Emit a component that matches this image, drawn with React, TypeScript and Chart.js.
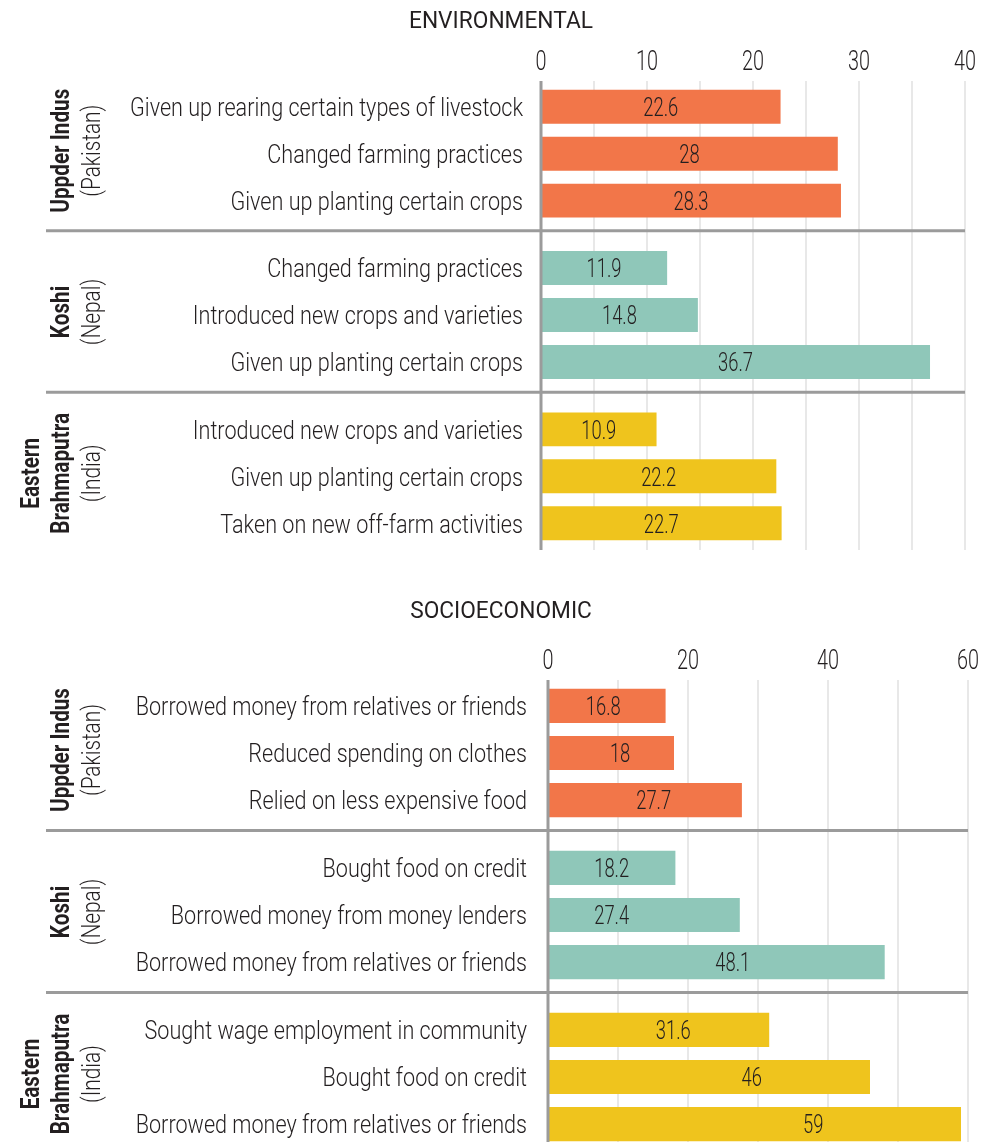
import React, { useEffect, useRef } from 'react';
import { Chart, registerables } from 'chart.js';

Chart.register(...registerables);

// ---------- data ----------
const regions = ['Uppder Indus', 'Koshi', 'Eastern Brahmaputra'];
const regionLines = [['Uppder Indus'], ['Koshi'], ['Eastern', 'Brahmaputra']];
const countries = ['(Pakistan)', '(Nepal)', '(India)'];

const envTitle = 'ENVIRONMENTAL';
const envUpperIndusLabels = ['Given up rearing certain types of livestock', 'Changed farming practices', 'Given up planting certain crops'];
const envUpperIndusValues = [22.6, 28, 28.3];
const envKoshiLabels = ['Changed farming practices', 'Introduced new crops and varieties', 'Given up planting certain crops'];
const envKoshiValues = [11.9, 14.8, 36.7];
const envBrahmaputraLabels = ['Introduced new crops and varieties', 'Given up planting certain crops', 'Taken on new off-farm activities'];
const envBrahmaputraValues = [10.9, 22.2, 22.7];
const envTickLabels = [0, 10, 20, 30, 40];

const socioTitle = 'SOCIOECONOMIC';
const socioUpperIndusLabels = ['Borrowed money from relatives or friends', 'Reduced spending on clothes', 'Relied on less expensive food'];
const socioUpperIndusValues = [16.8, 18, 27.7];
const socioKoshiLabels = ['Bought food on credit', 'Borrowed money from money lenders', 'Borrowed money from relatives or friends'];
const socioKoshiValues = [18.2, 27.4, 48.1];
const socioBrahmaputraLabels = ['Sought wage employment in community', 'Bought food on credit', 'Borrowed money from relatives or friends'];
const socioBrahmaputraValues = [31.6, 46, 59];
const socioTickLabels = [0, 20, 40, 60];

// ---------- style ----------
const COLORS = ['#F27649', '#8FC7B9', '#EFC41D'];
const TEXT = '#231f20';
const GRID = '#e8e8e8';
const AXIS = '#9b9b9b';
const FONT = 'Roboto, "Liberation Sans", sans-serif';
// where the value labels of the socioeconomic panel sit, in axis units (as in the original layout)
const socioValueLabelAnchor = [
  [7.9, 10.3, 15.1],
  [9.1, 9.1, 26.4],
  [17.9, 29.1, 37.9],
];

type PanelCfg = {
  title: string;
  titleMidY: number;
  labelGap: number;
  gridStep: number;
  max: number;
  tickLabels: number[];
  gridBottomInset: number;
  valueAnchors?: number[][];
};

function fontStr(weight: number, size: number) {
  return `${weight} ${size}px ${FONT}`;
}

function factorFor(ctx: CanvasRenderingContext2D, sample: string, target: number, size: number, weight: number) {
  ctx.save();
  ctx.font = fontStr(weight, size);
  const w = ctx.measureText(sample).width;
  ctx.restore();
  return w > 0 ? target / w : 1;
}

function drawText(
  ctx: CanvasRenderingContext2D,
  text: string,
  x: number,
  y: number,
  size: number,
  weight: number,
  factor: number,
  align: CanvasTextAlign,
  rotate = false
) {
  ctx.save();
  ctx.translate(x, y);
  if (rotate) ctx.rotate(-Math.PI / 2);
  ctx.scale(factor, 1);
  ctx.font = fontStr(weight, size);
  ctx.fillStyle = TEXT;
  ctx.textAlign = align;
  ctx.textBaseline = 'alphabetic';
  ctx.fillText(text, 0, size * 0.355);
  ctx.restore();
}

function makePlugin(cfg: PanelCfg, rowLabels: string[][]) {
  return {
    id: 'panelDecor',
    beforeDatasetsDraw(chart: any) {
      const { ctx, chartArea: a } = chart;
      const x = chart.scales.x;
      ctx.save();
      ctx.strokeStyle = GRID;
      ctx.lineWidth = 2;
      x.ticks.forEach((t: any) => {
        const px = Math.round(x.getPixelForValue(t.value));
        ctx.beginPath();
        ctx.moveTo(px, a.top + 8);
        ctx.lineTo(px, a.bottom - cfg.gridBottomInset);
        ctx.stroke();
      });
      ctx.restore();
    },
    afterDatasetsDraw(chart: any) {
      const { ctx, chartArea: a } = chart;
      const x = chart.scales.x;
      const y = chart.scales.y;

      // zero axis
      ctx.save();
      ctx.strokeStyle = AXIS;
      ctx.lineWidth = 3;
      const x0 = x.getPixelForValue(0);
      ctx.beginPath();
      ctx.moveTo(x0, a.top + 8);
      ctx.lineTo(x0, a.bottom - cfg.gridBottomInset);
      ctx.stroke();

      // group separators
      const xEnd = x.getPixelForValue(cfg.max);
      for (let i = 0; i < regions.length - 1; i++) {
        const sy = (y.getPixelForValue(i) + y.getPixelForValue(i + 1)) / 2 - 3.5;
        ctx.beginPath();
        ctx.moveTo(46, sy);
        ctx.lineTo(xEnd, sy);
        ctx.stroke();
      }
      ctx.restore();

      const fRow = factorFor(ctx, 'Given up rearing certain types of livestock', 393, 26, 300);
      const fVal = factorFor(ctx, '22.6', 35, 26, 300);
      const fTick = factorFor(ctx, '40', 22, 28, 300);
      const fTitle = factorFor(ctx, 'ENVIRONMENTAL', 184, 23, 400);
      const fBold = factorFor(ctx, 'Uppder Indus', 124, 26, 700);
      const fLight = factorFor(ctx, '(Pakistan)', 92, 26, 300);

      // title
      drawText(ctx, cfg.title, 501, cfg.titleMidY, 23, 400, fTitle, 'center');

      // tick labels
      x.ticks.forEach((t: any) => {
        if (cfg.tickLabels.includes(t.value)) {
          drawText(ctx, String(t.value), x.getPixelForValue(t.value), a.top - 12.5, 28, 300, fTick, 'center');
        }
      });

      // bars: value labels + row labels
      chart.data.datasets.forEach((ds: any, d: number) => {
        const meta = chart.getDatasetMeta(d);
        meta.data.forEach((el: any, i: number) => {
          const v = ds.data[i];
          const vx = cfg.valueAnchors ? x.getPixelForValue(cfg.valueAnchors[i][d]) : (el.x + el.base) / 2;
          drawText(ctx, String(v), vx, el.y, 26, 300, fVal, 'center');
          drawText(ctx, rowLabels[d][i], a.left - cfg.labelGap, el.y, 26, 300, fRow, 'right');
        });
      });

      // group labels (rotated)
      regions.forEach((_, i) => {
        const cy = y.getPixelForValue(i) - 3;
        const lines = regionLines[i];
        const countryX = 90.5;
        drawText(ctx, countries[i], countryX, cy, 26, 300, fLight, 'center', true);
        lines.forEach((ln, j) => {
          const lx = countryX - 30.5 * (lines.length - j);
          drawText(ctx, ln, lx, cy, 26, 700, fBold, 'center', true);
        });
      });
    },
  };
}

function buildDatasets(groupValues: number[][]) {
  return [0, 1, 2].map((k) => ({
    label: `row${k + 1}`,
    data: groupValues.map((g) => g[k]),
    backgroundColor: COLORS,
    borderWidth: 0,
    categoryPercentage: 0.873,
    barPercentage: 0.723,
  }));
}

function rowLabelsByRank(groupLabels: string[][]) {
  return [0, 1, 2].map((k) => groupLabels.map((g) => g[k]));
}

function Panel(props: {
  width: number;
  height: number;
  values: number[][];
  labels: string[][];
  cfg: PanelCfg;
  padding: { left: number; right: number; top: number; bottom: number };
}) {
  const ref = useRef<HTMLCanvasElement | null>(null);
  useEffect(() => {
    if (!ref.current) return;
    const chart = new Chart(ref.current, {
      type: 'bar',
      data: { labels: regions, datasets: buildDatasets(props.values) as any },
      options: {
        indexAxis: 'y',
        responsive: false,
        animation: false,
        devicePixelRatio: 1,
        layout: { padding: props.padding },
        scales: {
          x: { type: 'linear', min: 0, max: props.cfg.max, display: false, ticks: { stepSize: props.cfg.gridStep } },
          y: { type: 'category', display: false, offset: true },
        },
        plugins: {
          legend: { display: false },
          tooltip: { enabled: false },
          title: { display: false },
        },
      },
      plugins: [makePlugin(props.cfg, rowLabelsByRank(props.labels)) as any],
    });
    return () => chart.destroy();
  }, []);
  return <canvas ref={ref} width={props.width} height={props.height} style={{ display: 'block' }} />;
}

export default function App() {
  useEffect(() => {
    document.body.style.margin = '0';
    document.body.style.overflow = 'hidden';
  }, []);
  return (
    <div style={{ position: 'relative', width: 994, height: 1142, overflow: 'hidden', background: '#fff' }}>
      <div style={{ position: 'absolute', left: 0, top: 0 }}>
        <Panel
          width={994}
          height={575}
          values={[envUpperIndusValues, envKoshiValues, envBrahmaputraValues]}
          labels={[envUpperIndusLabels, envKoshiLabels, envBrahmaputraLabels]}
          cfg={{ title: envTitle, titleMidY: 20, labelGap: 18, gridStep: 5, max: 40, tickLabels: envTickLabels, gridBottomInset: 7 }}
          padding={{ left: 541, right: 29, top: 73, bottom: 18 }}
        />
      </div>
      <div style={{ position: 'absolute', left: 0, top: 575 }}>
        <Panel
          width={994}
          height={590}
          values={[socioUpperIndusValues, socioKoshiValues, socioBrahmaputraValues]}
          labels={[socioUpperIndusLabels, socioKoshiLabels, socioBrahmaputraLabels]}
          cfg={{ title: socioTitle, titleMidY: 35, labelGap: 21, gridStep: 10, max: 60, tickLabels: socioTickLabels, gridBottomInset: 0, valueAnchors: socioValueLabelAnchor }}
          padding={{ left: 548, right: 26, top: 97, bottom: 7 }}
        />
      </div>
    </div>
  );
}
